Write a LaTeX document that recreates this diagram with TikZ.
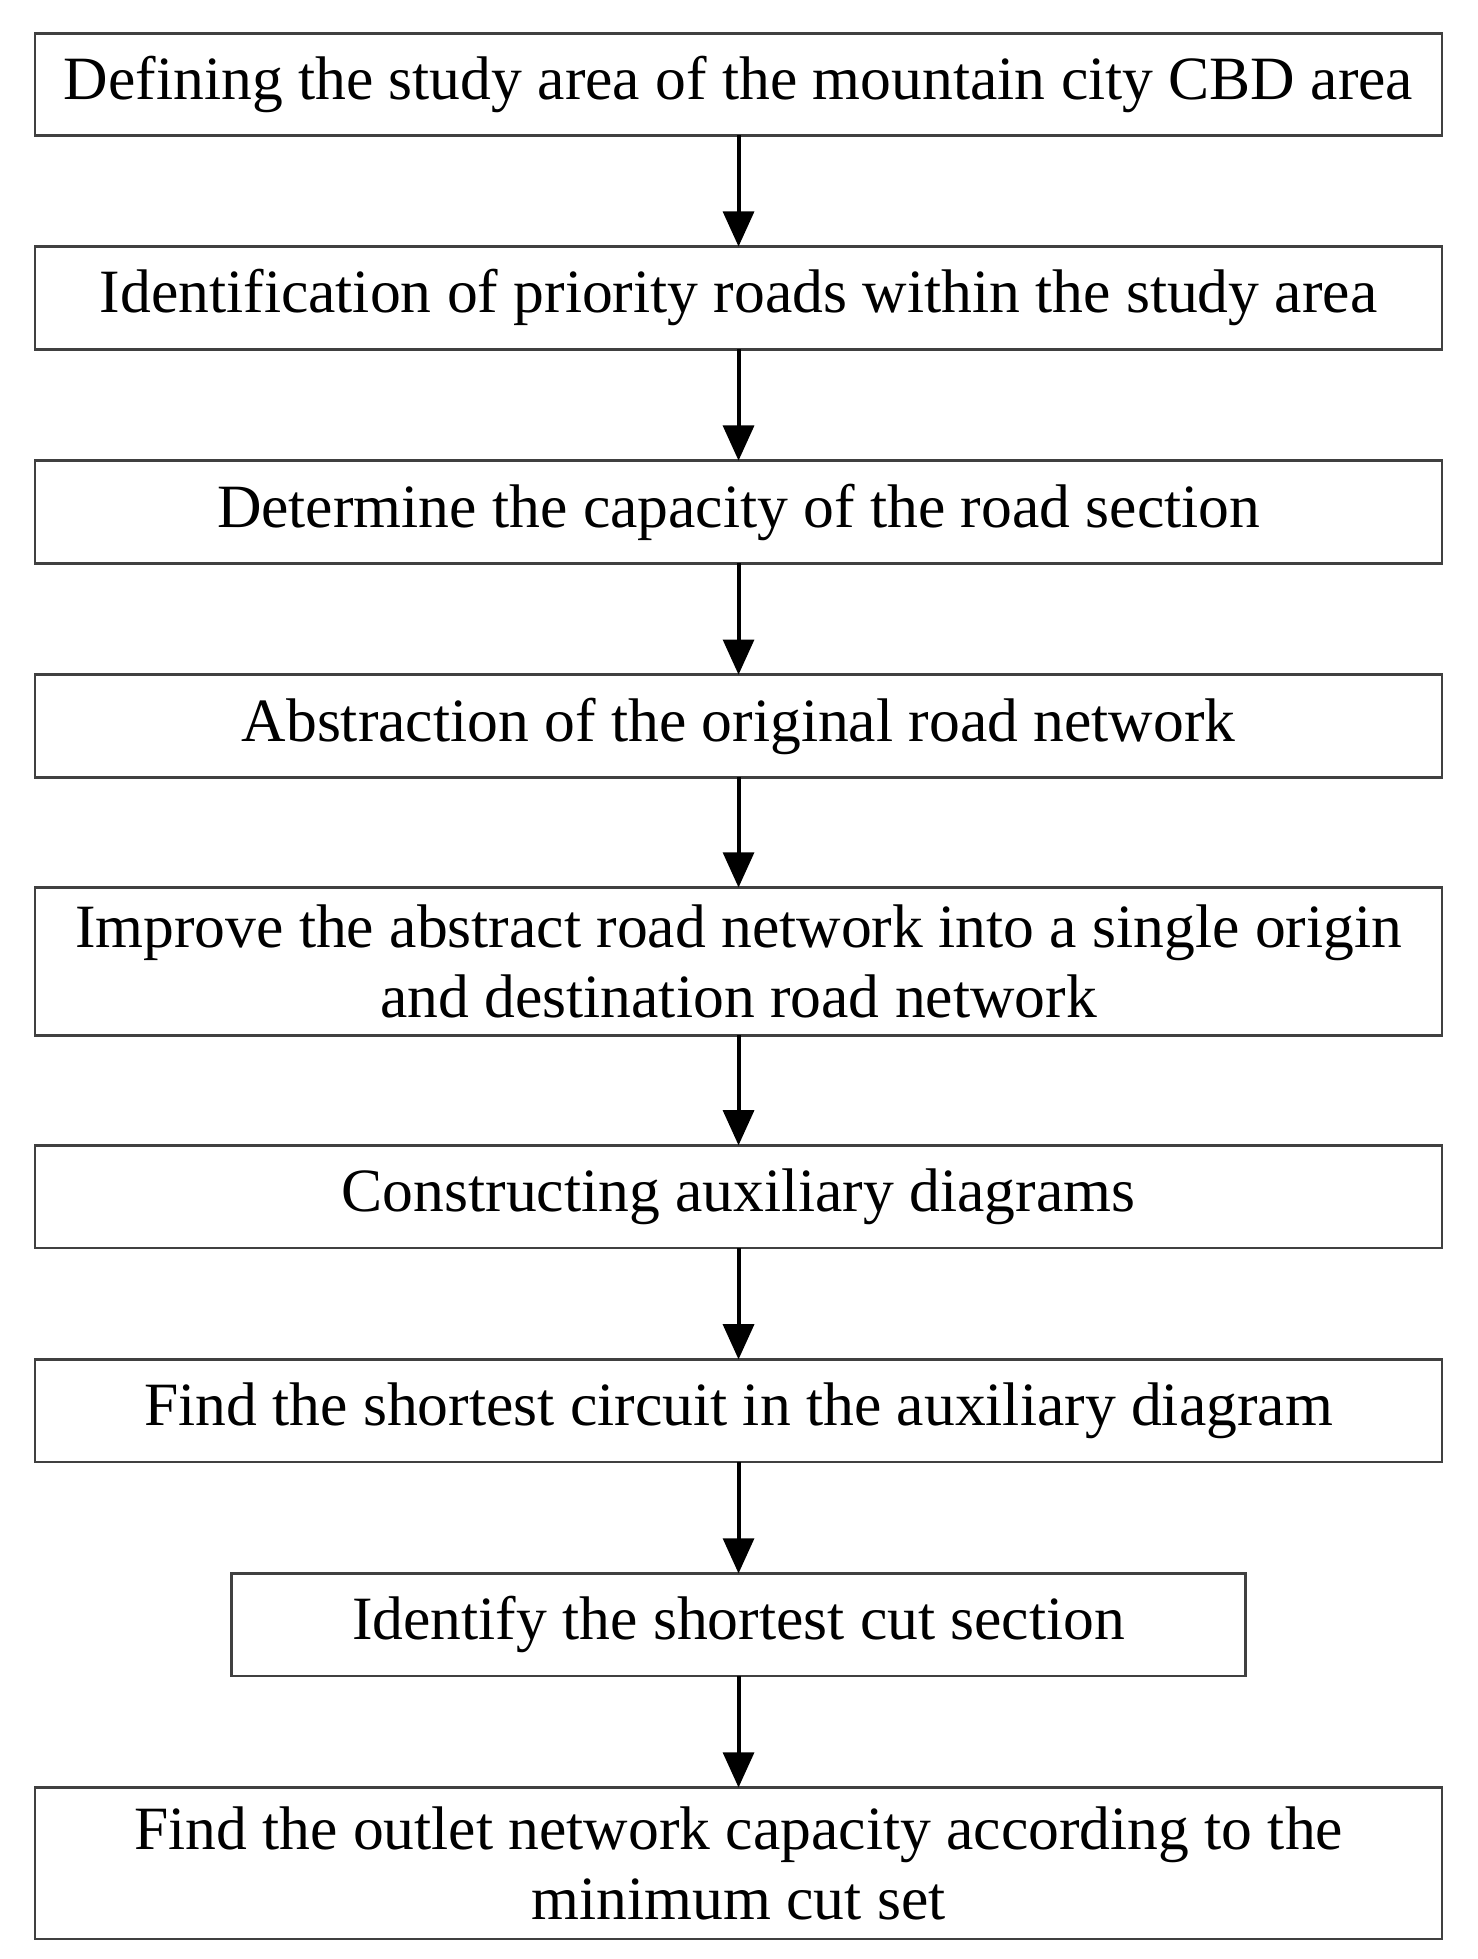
\documentclass[tikz,border=0pt]{standalone}
\usepackage{fontspec}
\setmainfont{Liberation Serif}
\usetikzlibrary{arrows.meta}
\begin{document}
\begin{tikzpicture}[x=0.02cm,y=-0.02cm,
 box/.style={draw=black!75,line width=1.2pt,inner sep=0pt},
 txt/.style={font=\fontsize{28}{32}\selectfont,align=center},
 arr/.style={line width=1.8pt,-{Triangle[length=16pt,width=14pt]}}]
\useasboundingbox (0,0) rectangle (1180,1565);
\def\bx#1#2#3#4#5#6{\draw[box] (#2,#4) rectangle (#3,#5); \node[txt] (#1) at ({(#2+#3)/2},{(#4+#5)/2}) {#6};
 \coordinate (#1t) at ({(#2+#3)/2},#4); \coordinate (#1b) at ({(#2+#3)/2},#5);}
\bx{a}{28}{1152}{27}{108}{Defining the study area of the mountain city CBD area}
\bx{b}{28}{1152}{197}{279}{Identification of priority roads within the study area}
\bx{c}{28}{1152}{368}{450}{Determine the capacity of the road section}
\bx{d}{28}{1152}{539}{621}{Abstraction of the original road network}
\bx{e}{28}{1152}{709}{827}{Improve the abstract road network into a single origin\\and destination road network}
\bx{f}{28}{1152}{915}{997}{Constructing auxiliary diagrams}
\bx{g}{28}{1152}{1086}{1168}{Find the shortest circuit in the auxiliary diagram}
\bx{h}{185}{995}{1257}{1339}{Identify the shortest cut section}
\bx{i}{28}{1152}{1428}{1549}{Find the outlet network capacity according to the\\minimum cut set}
\draw[arr] (ab) -- (bt);
\draw[arr] (bb) -- (ct);
\draw[arr] (cb) -- (dt);
\draw[arr] (db) -- (et);
\draw[arr] (eb) -- (ft);
\draw[arr] (fb) -- (gt);
\draw[arr] (gb) -- (ht);
\draw[arr] (hb) -- (it);
\end{tikzpicture}
\end{document}
